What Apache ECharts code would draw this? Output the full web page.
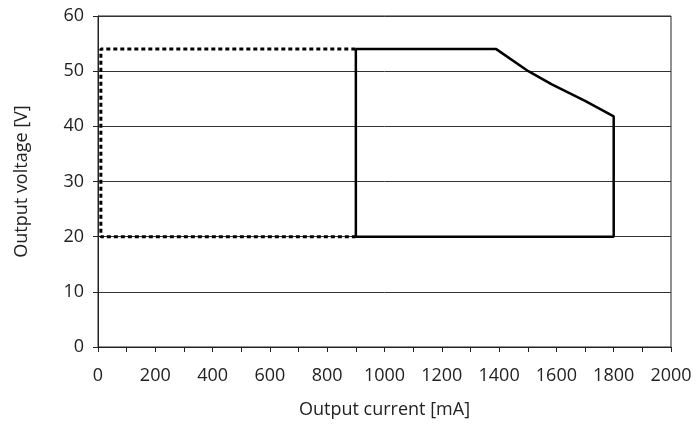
<!DOCTYPE html>
<html><head><meta charset="utf-8">
<script src="https://cdn.jsdelivr.net/npm/echarts@6/dist/echarts.min.js"></script>
<style>html,body{margin:0;padding:0;background:#fff}#c{width:698px;height:425px}</style>
</head><body><div id="c"></div>
<script>
// Data
const dashedOutline = [[900,20],[10,20],[10,54],[900,54]];
const solidOutline = [[900,20],[900,54],[1390,54],[1502,50],[1584,47.6],[1700,44.6],[1800,41.8],[1800,20],[900,20]];
const xTitle = 'Output current [mA]';
const yTitle = 'Output voltage [V]';

const font = '"Open Sans", "Noto Sans", sans-serif';
const txt = '#222';
const chart = echarts.init(document.getElementById('c'), null, {renderer:'canvas'});
chart.setOption({
  animation:false,
  grid:{left:98,right:27,top:16,bottom:78,show:true,borderColor:'#222',borderWidth:1},
  xAxis:{type:'value',min:0,max:2000,interval:100,
    name:xTitle,nameLocation:'middle',nameGap:54,
    nameTextStyle:{fontFamily:font,fontSize:18,color:txt},
    axisLine:{show:true,lineStyle:{color:'#222',width:1}},
    axisTick:{show:true,length:5,inside:false,lineStyle:{color:'#222'}},
    axisLabel:{fontFamily:font,fontSize:18,color:txt,margin:20,
      formatter:v=> (v%200===0)?String(v):''},
    splitLine:{show:false}},
  yAxis:{type:'value',min:0,max:60,interval:10,
    name:yTitle,nameLocation:'middle',nameGap:67,
    nameTextStyle:{fontFamily:font,fontSize:18,color:txt},
    axisLine:{show:true,lineStyle:{color:'#222',width:1}},
    axisTick:{show:true,length:5,inside:false,lineStyle:{color:'#222'}},
    axisLabel:{fontFamily:font,fontSize:18,color:txt,margin:14},
    splitLine:{show:true,lineStyle:{color:'#333',width:1}}},
  series:[
    {type:'line',data:dashedOutline,symbol:'none',
     lineStyle:{color:'#000',width:3,type:[4,3]}},
    {type:'line',data:solidOutline,symbol:'none',
     lineStyle:{color:'#000',width:2.5,type:'solid'}}
  ]
});
</script></body></html>
